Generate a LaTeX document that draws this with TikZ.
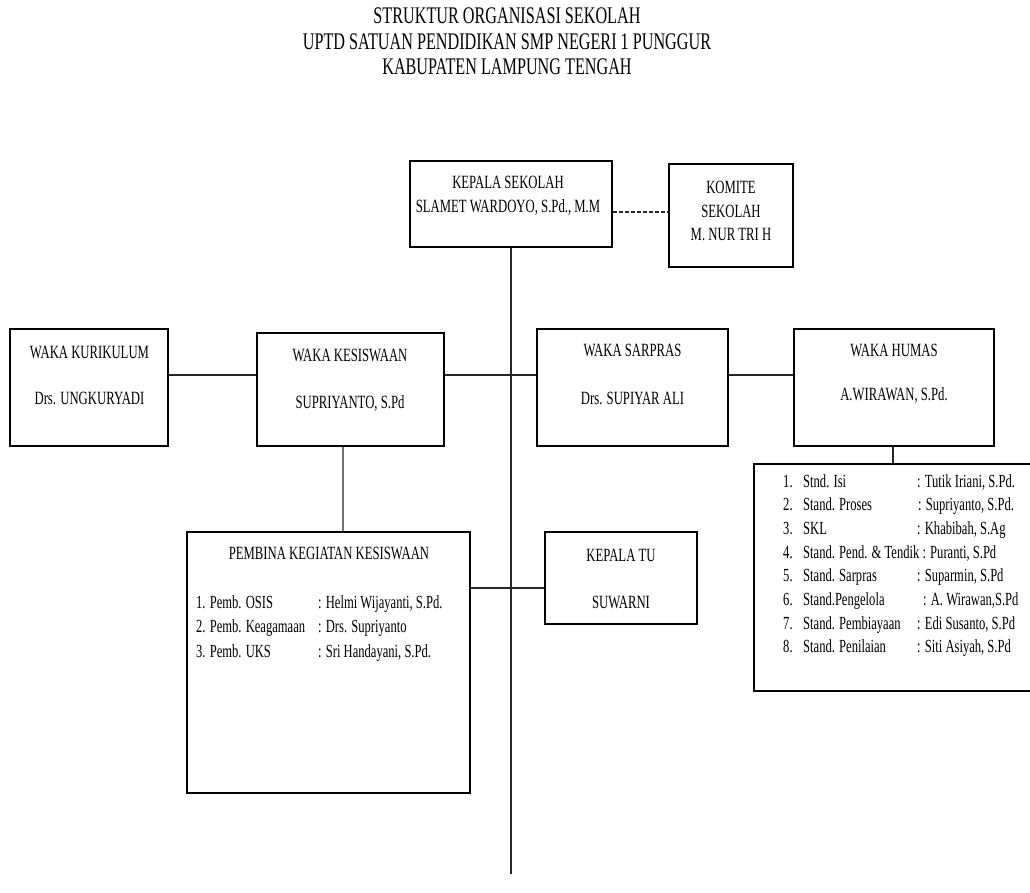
\documentclass[tikz,border=0pt]{standalone}
\usepackage{fontspec}
\setmainfont{Liberation Serif}[FakeStretch=0.68]
\begin{document}
\begin{tikzpicture}[x=1pt,y=-1pt,
  box/.style={draw=black, line width=1.1pt, rectangle, inner sep=0pt},
  txt/.style={anchor=base, inner sep=0pt, font=\fontsize{18.7}{23}\selectfont},
  lst/.style={anchor=base west, inner sep=0pt, font=\fontsize{18.5}{23}\selectfont},
  ttl/.style={anchor=base, inner sep=0pt, font=\fontsize{23.8}{28}\selectfont},
  conn/.style={line width=1.1pt, black!85}]
\useasboundingbox (0,0) rectangle (1030,893);
\clip (0,0) rectangle (1030,893);

% title
\node[ttl] (t1) at (507,24) {STRUKTUR ORGANISASI SEKOLAH};
\node[ttl] (t2) at (507,49.5) {UPTD SATUAN PENDIDIKAN SMP NEGERI 1 PUNGGUR};
\node[ttl] (t3) at (507,75) {KABUPATEN LAMPUNG TENGAH};

% boxes
\node[box, minimum width=202pt, minimum height=86pt] (kepsek) at (511,204) {};
\node[box, minimum width=124pt, minimum height=103pt] (komite) at (731,215.5) {};
\node[box, minimum width=158pt, minimum height=117pt] (kurik) at (89,387.5) {};
\node[box, minimum width=187pt, minimum height=113pt] (kesis) at (350.5,389.5) {};
\node[box, minimum width=191pt, minimum height=117pt] (sarpras) at (632.5,387.5) {};
\node[box, minimum width=200pt, minimum height=117pt] (humas) at (894,387.5) {};
\node[box, minimum width=283pt, minimum height=261pt] (pembina) at (328.5,662.5) {};
\node[box, minimum width=152pt, minimum height=92pt] (kepalatu) at (621,578) {};
\node[box, minimum width=291pt, minimum height=227pt] (std) at (899.5,577.5) {};

% connectors
\coordinate (trunkend) at (511,874);
\draw[conn] (kepsek.south) -- (trunkend);
\coordinate (dsh) at (612,212);
\draw[conn, dash pattern=on 4pt off 2pt] (dsh -| kepsek.east) -- (dsh -| komite.west);
\coordinate (hrow) at (0,375);
\draw[conn] (kurik.east |- hrow) -- (kesis.west |- hrow);
\draw[conn] (kesis.east |- hrow) -- (sarpras.west |- hrow);
\draw[conn] (sarpras.east |- hrow) -- (humas.west |- hrow);
\coordinate (vk) at (343,0);
\draw[conn, black!55] (kesis.south -| vk) -- (pembina.north -| vk);
\coordinate (vh) at (893,0);
\draw[conn] (humas.south -| vh) -- (std.north -| vh);
\coordinate (htu) at (0,588);
\draw[conn] (pembina.east |- htu) -- (kepalatu.west |- htu);

% texts
\node[txt] (kepsek1) at (508,189) {KEPALA SEKOLAH};
\node[txt] (kepsek2) at (508,213) {SLAMET WARDOYO, S.Pd., M.M};
\node[txt] (komite1) at (731,194) {KOMITE};
\node[txt] (komite2) at (731,217.5) {SEKOLAH};
\node[txt] (komite3) at (731,241) {M. NUR TRI H};
\node[txt] (kurik1) at (89.5,358) {WAKA KURIKULUM};
\node[txt] (kurik2) at (89.5,404) {Drs. UNGKURYADI};
\node[txt] (kesis1) at (350,361) {WAKA KESISWAAN};
\node[txt] (kesis2) at (350,408) {SUPRIYANTO, S.Pd};
\node[txt] (sarpras1) at (632.5,356) {WAKA SARPRAS};
\node[txt] (sarpras2) at (632.5,404) {Drs. SUPIYAR ALI};
\node[txt] (humas1) at (894,356) {WAKA HUMAS};
\node[txt] (humas2) at (894,400) {A.WIRAWAN, S.Pd.};
\node[txt] (tu1) at (621,561) {KEPALA TU};
\node[txt] (tu2) at (621,608) {SUWARNI};
\node[txt] (pemb0) at (329,559) {PEMBINA KEGIATAN KESISWAAN};

\node[lst] (pemb1) at (196,608) {\makebox[122pt][l]{1. Pemb. OSIS}: Helmi Wijayanti, S.Pd.};
\node[lst] (pemb2) at (196,632.5) {\makebox[122pt][l]{2. Pemb. Keagamaan}: Drs. Supriyanto};
\node[lst] (pemb3) at (196,657) {\makebox[122pt][l]{3. Pemb. UKS}: Sri Handayani, S.Pd.};

\node[lst] (s1) at (783,487) {\makebox[20pt][l]{1.}\makebox[114pt][l]{Stnd. Isi}: Tutik Iriani, S.Pd.};
\node[lst] (s2) at (783,510.7) {\makebox[20pt][l]{2.}\makebox[115pt][l]{Stand. Proses}: Supriyanto, S.Pd.};
\node[lst] (s3) at (783,534.4) {\makebox[20pt][l]{3.}\makebox[114pt][l]{SKL}: Khabibah, S.Ag};
\node[lst] (s4) at (783,558.1) {\makebox[20pt][l]{4.}Stand. Pend. \& Tendik : Puranti, S.Pd};
\node[lst] (s5) at (783,581.8) {\makebox[20pt][l]{5.}\makebox[114pt][l]{Stand. Sarpras}: Suparmin, S.Pd};
\node[lst] (s6) at (783,605.5) {\makebox[20pt][l]{6.}\makebox[120pt][l]{Stand.Pengelola}: A. Wirawan,S.Pd};
\node[lst] (s7) at (783,629.2) {\makebox[20pt][l]{7.}\makebox[114pt][l]{Stand. Pembiayaan}: Edi Susanto, S.Pd};
\node[lst] (s8) at (783,652.9) {\makebox[20pt][l]{8.}\makebox[114pt][l]{Stand. Penilaian}: Siti Asiyah, S.Pd};
\end{tikzpicture}
\end{document}
